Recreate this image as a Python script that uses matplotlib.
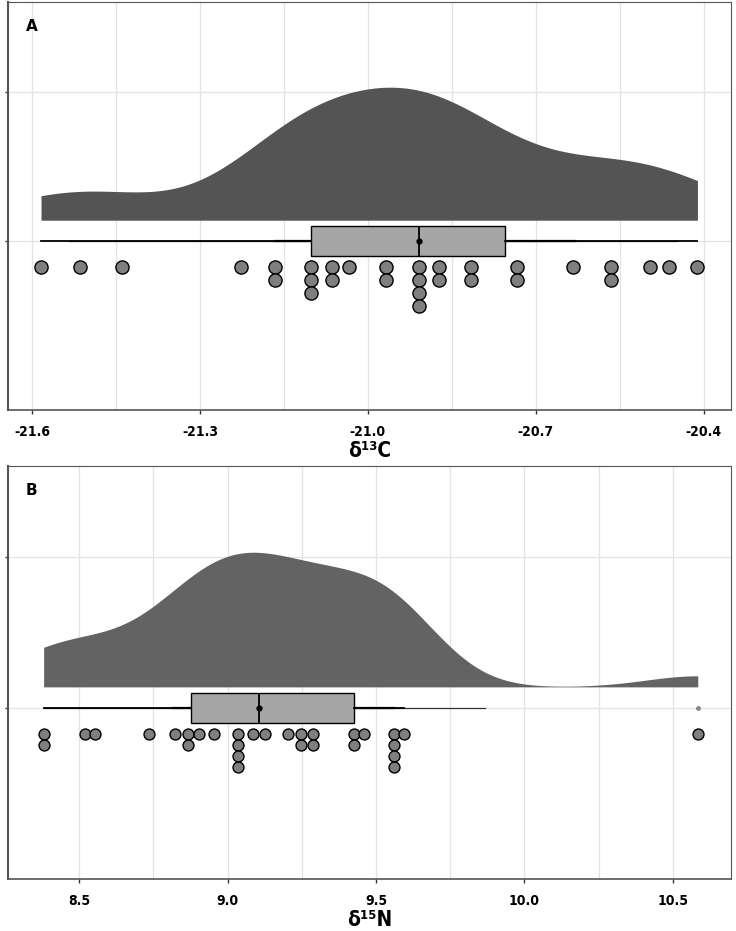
import matplotlib.pyplot as plt
import numpy as np

# d13C values (dotplot)
c13 = [-21.584, -21.515, -21.439, -21.227, -21.165, -21.165, -21.102, -21.102, -21.102,
       -21.064, -21.064, -21.034, -20.968, -20.968, -20.909, -20.909, -20.909, -20.909,
       -20.872, -20.872, -20.815, -20.815, -20.734, -20.734, -20.634, -20.566, -20.566,
       -20.496, -20.461, -20.411]
# d15N values (panel B)
n15 = [8.380, 8.380, 8.521, 8.552, 8.736, 8.821, 8.865, 8.865, 8.905, 8.953,
       9.035, 9.035, 9.035, 9.035, 9.084, 9.127, 9.202, 9.248, 9.248, 9.288,
       9.288, 9.427, 9.427, 9.460, 9.562, 9.562, 9.562, 9.562, 9.593, 10.584]

c13_ticks = [-21.6, -21.3, -21.0, -20.7, -20.4]
n15_ticks = [8.5, 9.0, 9.5, 10.0, 10.5]

box_col = "#a6a6a6"
dot_col = "#7f7f7f"


def kde(x, bw, grid):
    x = np.asarray(x)
    z = (grid[:, None] - x[None, :]) / bw
    return np.exp(-0.5 * z ** 2).sum(axis=1) / (len(x) * bw * np.sqrt(2 * np.pi))


def raincloud(ax, vals, bw, xlim, ticks, label, letter, dot_s, dot_step, dens_col):
    vals = np.asarray(vals)
    # half eye density
    g = np.linspace(vals.min(), vals.max(), 400)
    d = kde(vals, bw, g)
    d = d / d.max() * 0.89
    ax.fill_between(g, 0.14, 0.14 + d, color=dens_col, lw=0, zorder=2)

    # interval lines (95% thin, 66% thick)
    lo95, hi95 = np.quantile(vals, [0.025, 0.975])
    lo66, hi66 = np.quantile(vals, [0.17, 0.83])
    ax.plot([lo95, hi95], [0, 0], color="#333333", lw=0.9, zorder=3)
    ax.plot([lo66, hi66], [0, 0], color="black", lw=1.6, zorder=3)

    # boxplot
    ax.boxplot(vals, vert=False, positions=[0], widths=0.2, patch_artist=True,
               boxprops=dict(facecolor=box_col, edgecolor="black", lw=1.0),
               medianprops=dict(color="black", lw=1.3),
               whiskerprops=dict(color="black", lw=1.3),
               capprops=dict(lw=0),
               flierprops=dict(marker="o", markersize=2.5, markerfacecolor="#888888",
                               markeredgecolor="#888888"),
               zorder=4, manage_ticks=False)
    ax.plot(np.median(vals), 0, "o", color="black", ms=3.5, zorder=5)

    # stacked dots
    u, cnt = np.unique(vals, return_counts=True)
    xs, ys = [], []
    for v, c in zip(u, cnt):
        for i in range(c):
            xs.append(v)
            ys.append(-0.173 - i * dot_step)
    ax.scatter(xs, ys, s=dot_s, color=dot_col, edgecolors="black", linewidths=1.0, zorder=5)

    ax.set_xlim(*xlim)
    ax.set_ylim(-1.13, 1.6)
    ax.set_xticks(ticks)
    ax.set_xticks([(a + b) / 2 for a, b in zip(ticks[:-1], ticks[1:])], minor=True)
    ax.set_xticklabels([f"{t:.1f}" for t in ticks], fontweight="bold",
                       fontstretch="condensed")
    ax.set_yticks([0, 1])
    ax.set_yticklabels([])
    ax.grid(True, which="both", color="#e3e3e3", lw=0.9, zorder=0)
    ax.set_axisbelow(True)
    ax.tick_params(axis="x", which="major", length=3, width=1, colors="#333333",
                   labelsize=10, labelcolor="black", pad=8)
    ax.tick_params(axis="x", which="minor", length=0)
    ax.tick_params(axis="y", length=2, width=1, colors="#333333")
    for s in ax.spines.values():
        s.set_color("#555555")
        s.set_linewidth(0.8)
    ax.spines["left"].set_linewidth(1.5)
    ax.spines["bottom"].set_linewidth(1.2)
    ax.set_xlabel(label, fontsize=15, fontweight="bold", fontstretch="condensed",
                  labelpad=1)
    ax.text(0.033, 0.94, letter, transform=ax.transAxes, fontsize=11,
            fontweight="bold", va="center", ha="center")


fig = plt.figure(figsize=(7.36, 9.31), dpi=100)
ax1 = fig.add_axes([8 / 736, 1 - 410 / 931, 723 / 736, 408 / 931])
ax2 = fig.add_axes([8 / 736, 1 - 879 / 931, 723 / 736, 413 / 931])

raincloud(ax1, c13, 0.12, (-21.643, -20.351), c13_ticks, "δ¹³C", "A", 90, 0.088, "#545454")
raincloud(ax2, n15, 0.175, (8.260, 10.696), n15_ticks, "δ¹⁵N", "B", 62, 0.073, "#636363")

fig.savefig("out.png", dpi=100)
